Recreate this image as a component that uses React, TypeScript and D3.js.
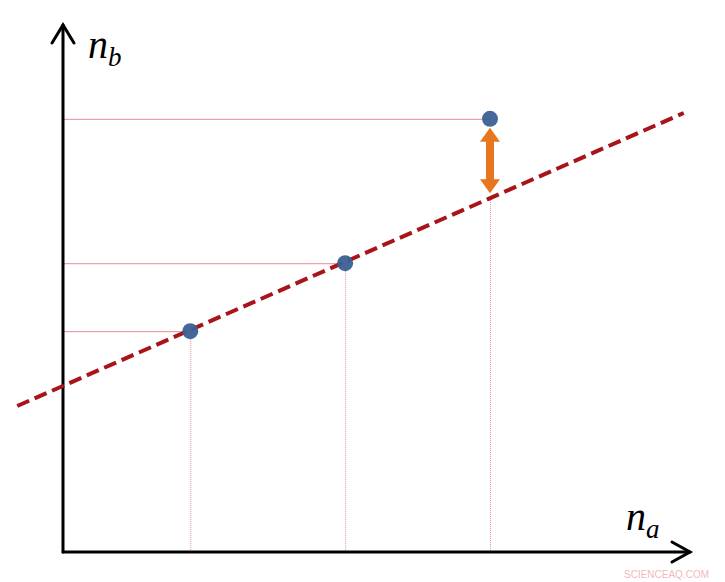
import React from 'react';
import * as d3 from 'd3';

// measured points (na, nb) in arbitrary units
const pointsNa = [20.3, 45.0, 68.1];
const pointsNb = [41.9, 54.8, 82.2];

// fitted (dashed) line end points
const fitNa = [-7.3, 99.0];
const fitNb = [27.7, 83.3];

const axisLabels = { x: 'a', y: 'b' };
const watermark = 'SCIENCEAQ.COM';

const W = 725;
const H = 582;

export default function App() {
  const x = d3.scaleLinear().domain([0, 100]).range([63, 690]);
  const y = d3.scaleLinear().domain([0, 100]).range([552, 25]);

  const fitAt = (na: number) =>
    fitNb[0] + ((fitNb[1] - fitNb[0]) / (fitNa[1] - fitNa[0])) * (na - fitNa[0]);

  const fitLine = d3
    .line<number>()
    .x((d) => x(d))
    .y((d) => y(fitAt(d)));

  const x0 = x(0);
  const y0 = y(0);

  // residual arrow on the last point
  const last = pointsNa.length - 1;
  const ax = x(pointsNa[last]);
  const aTop = y(pointsNb[last]) + 9;
  const aBot = y(fitAt(pointsNa[last])) - 5;
  const orange = '#E8761F';
  const labelFont = "'Liberation Serif', 'DejaVu Serif', serif";

  return (
    <svg
      width={W}
      height={H}
      style={{ position: 'absolute', left: 0, top: 0, background: '#fff' }}
    >
      {/* guide lines */}
      {pointsNa.map((na, i) => (
        <g key={i} stroke="#e38c96" strokeWidth={1}>
          <line x1={x0} x2={x(na)} y1={y(pointsNb[i]) + 0.5} y2={y(pointsNb[i]) + 0.5} />
          <line
            x1={x(na) + 0.5}
            x2={x(na) + 0.5}
            y1={i === last ? y(fitAt(na)) : y(pointsNb[i])}
            y2={y0}
            strokeDasharray="1,1"
          />
        </g>
      ))}

      {/* axes */}
      <g stroke="#000" strokeWidth={3} fill="none" strokeLinecap="round">
        <line x1={x0} y1={y0} x2={x0} y2={y(100)} />
        <line x1={x0} y1={y0} x2={x(100)} y2={y0} />
        <polyline points={`${x0 - 11},${y(100) + 18} ${x0},${y(100)} ${x0 + 11},${y(100) + 18}`} />
        <polyline points={`${x(100) - 18},${y0 - 10} ${x(100)},${y0} ${x(100) - 18},${y0 + 10}`} />
      </g>

      {/* fitted line */}
      <path
        d={fitLine(fitNa) ?? ''}
        stroke="#A8141A"
        strokeWidth={4}
        strokeDasharray="13,6"
        fill="none"
      />

      {/* points */}
      {pointsNa.map((na, i) => (
        <circle key={i} cx={x(na)} cy={y(pointsNb[i])} r={8} fill="#3C5F94" fillOpacity={0.95} />
      ))}

      {/* residual arrow */}
      <g fill={orange}>
        <rect x={ax - 4} y={aTop + 12} width={8} height={aBot - aTop - 24} />
        <polygon points={`${ax},${aTop} ${ax - 10},${aTop + 14} ${ax + 10},${aTop + 14}`} />
        <polygon points={`${ax},${aBot} ${ax - 10},${aBot - 14} ${ax + 10},${aBot - 14}`} />
      </g>

      {/* axis labels */}
      <text x={88} y={58} fontFamily={labelFont} fontStyle="italic" fontSize={40}>
        n<tspan fontSize={27} dy={8}>{axisLabels.y}</tspan>
      </text>
      <text x={626} y={530} fontFamily={labelFont} fontStyle="italic" fontSize={40}>
        n<tspan fontSize={27} dy={8}>{axisLabels.x}</tspan>
      </text>

      <text
        x={709}
        y={578}
        textAnchor="end"
        fontFamily="'Liberation Sans', sans-serif"
        fontSize={10}
        fill="#f2b8bd"
      >
        {watermark}
      </text>
    </svg>
  );
}
